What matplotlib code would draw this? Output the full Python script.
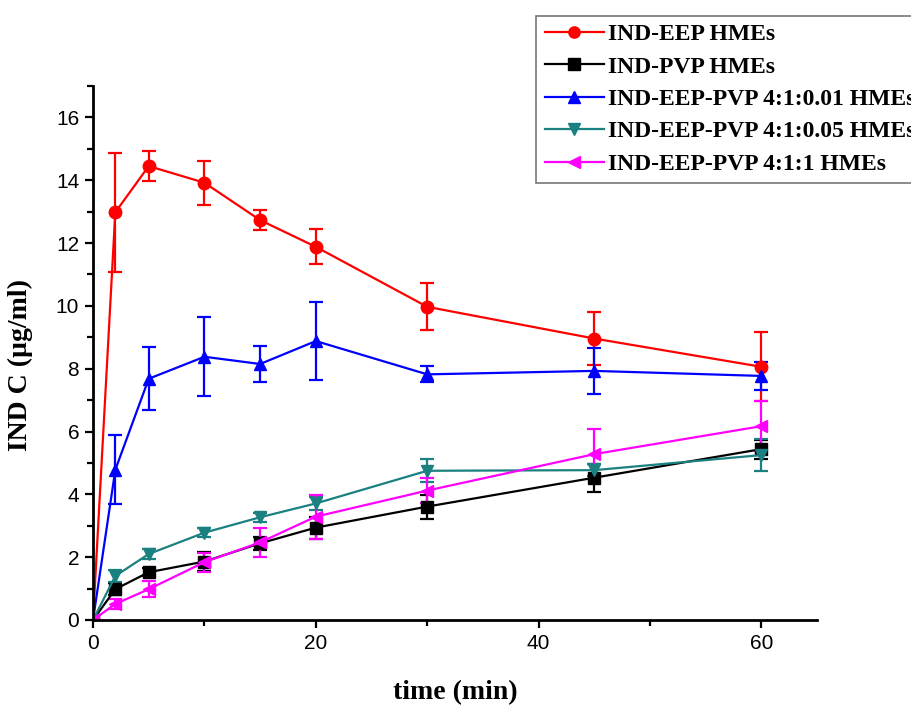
import numpy as np
import matplotlib
matplotlib.use("Agg")
import matplotlib.pyplot as plt
from matplotlib.ticker import MultipleLocator

# sampling times (min)
time = [0, 2, 5, 10, 15, 20, 30, 45, 60]

# IND concentration (ug/ml) and SD per formulation
eep = [0, 12.98, 14.45, 13.92, 12.73, 11.88, 9.97, 8.96, 8.06]
eep_sd = [0, 1.9, 0.47, 0.7, 0.31, 0.56, 0.75, 0.85, 1.1]

pvp = [0, 0.98, 1.52, 1.86, 2.44, 2.94, 3.61, 4.53, 5.44]
pvp_sd = [0, 0.2, 0.12, 0.3, 0.2, 0.35, 0.38, 0.45, 0.3]

mix001 = [0, 4.78, 7.68, 8.38, 8.15, 8.88, 7.82, 7.93, 7.77]
mix001_sd = [0, 1.1, 1.0, 1.26, 0.58, 1.25, 0.25, 0.72, 0.44]

mix005 = [0, 1.40, 2.10, 2.78, 3.27, 3.71, 4.75, 4.77, 5.25]
mix005_sd = [0, 0.2, 0.15, 0.15, 0.15, 0.2, 0.37, 0.2, 0.5]

mix1 = [0, 0.51, 0.98, 1.84, 2.47, 3.29, 4.12, 5.28, 6.17]
mix1_sd = [0, 0.15, 0.25, 0.3, 0.45, 0.7, 0.4, 0.8, 0.8]

series = [
    (eep, eep_sd, "IND-EEP HMEs", "#ff0000", "o"),
    (pvp, pvp_sd, "IND-PVP HMEs", "#000000", "s"),
    (mix001, mix001_sd, "IND-EEP-PVP 4:1:0.01 HMEs", "#0000ff", "^"),
    (mix005, mix005_sd, "IND-EEP-PVP 4:1:0.05 HMEs", "#1a8080", "v"),
    (mix1, mix1_sd, "IND-EEP-PVP 4:1:1 HMEs", "#ff00ff", "<"),
]

fig = plt.figure(figsize=(9.12, 7.05), dpi=100)
ax = fig.add_axes([0.102, 0.1206, 0.794, 0.7574])

lines = []
for y, sd, label, color, marker in series:
    c = ax.errorbar(time, y, yerr=sd, color=color, marker=marker, markersize=9,
                    linewidth=1.6, elinewidth=1.6, capsize=5, capthick=1.6, label=label)
    lines.append(c[0])

ax.set_xlim(0, 65)
ax.set_ylim(0, 17)
ax.xaxis.set_major_locator(MultipleLocator(20))
ax.xaxis.set_minor_locator(MultipleLocator(10))
ax.yaxis.set_major_locator(MultipleLocator(2))
ax.yaxis.set_minor_locator(MultipleLocator(1))

for side in ["top", "right"]:
    ax.spines[side].set_visible(False)
for side in ["left", "bottom"]:
    ax.spines[side].set_linewidth(2)

ax.tick_params(which="major", direction="out", length=6, width=1.6, labelsize=15, pad=4)
ax.tick_params(which="minor", direction="out", length=4, width=1.6)
for lbl in ax.get_xticklabels() + ax.get_yticklabels():
    lbl.set_family("Liberation Sans")

ax.set_xlabel("time (min)", family="Liberation Serif", fontweight="bold", fontsize=20)
ax.set_ylabel("IND C (\u00b5g/ml)", family="Liberation Serif", fontweight="bold", fontsize=20)
ax.xaxis.set_label_coords(0.5, -0.113)
ax.yaxis.set_label_coords(-0.083, 0.478)

leg = fig.legend(handles=lines, labels=[s[2] for s in series], loc="upper left",
                 bbox_to_anchor=(0.588, 0.978), frameon=True, fancybox=False,
                 edgecolor="#555555", handlelength=2.5, labelspacing=0.46, borderpad=0.35,
                 handletextpad=0.2, borderaxespad=0, markerscale=0.9,
                 prop={"family": "Liberation Serif", "weight": "bold", "size": 17})
leg.get_frame().set_linewidth(1.2)

fig.savefig("out.png", dpi=100)
